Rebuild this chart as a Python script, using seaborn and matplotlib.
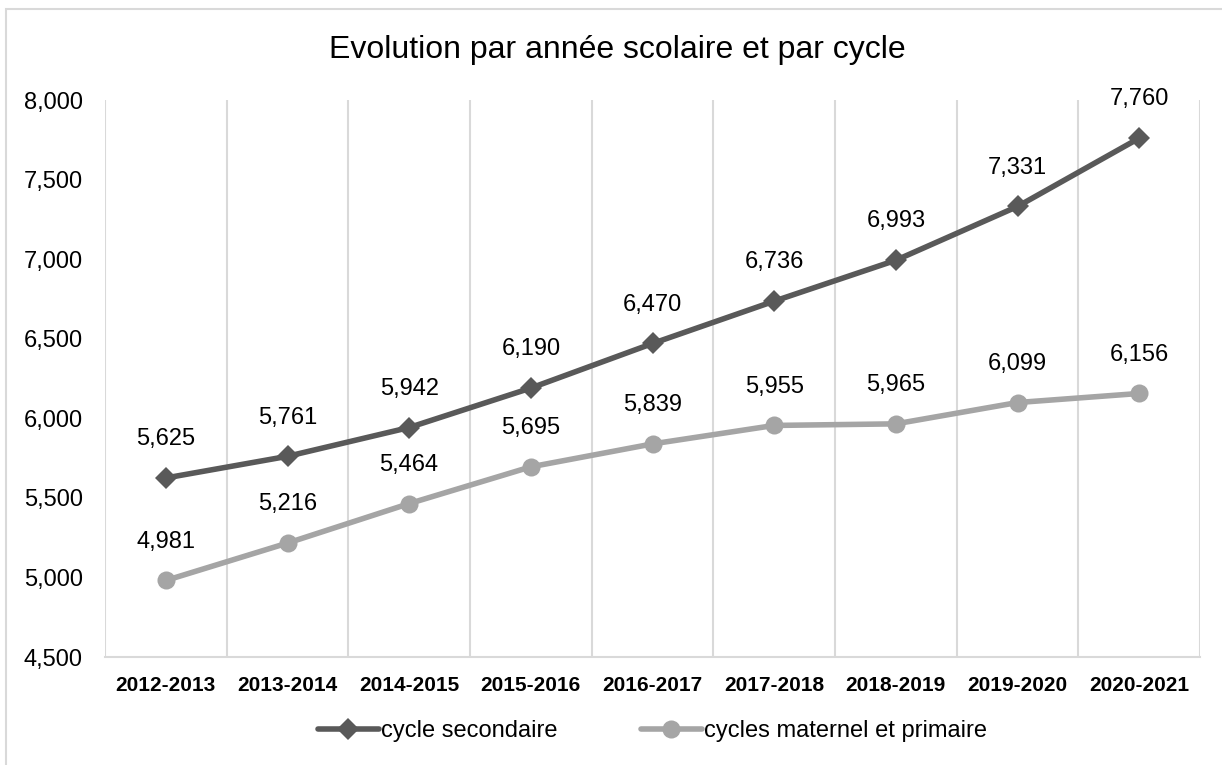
import numpy as np
import pandas as pd
import seaborn as sns
import matplotlib.pyplot as plt
from matplotlib.patches import Rectangle

annees = ['2012-2013', '2013-2014', '2014-2015', '2015-2016', '2016-2017',
          '2017-2018', '2018-2019', '2019-2020', '2020-2021']
secondaire = [5625, 5761, 5942, 6190, 6470, 6736, 6993, 7331, 7760]
maternel_primaire = [4981, 5216, 5464, 5695, 5839, 5955, 5965, 6099, 6156]
y_ticks = [4500, 5000, 5500, 6000, 6500, 7000, 7500, 8000]

sns.set_style("white")
plt.rcParams['font.family'] = ['Liberation Sans', 'DejaVu Sans']
plt.rcParams['text.color'] = 'black'
plt.rcParams['xtick.color'] = 'black'
plt.rcParams['ytick.color'] = 'black'

fig = plt.figure(figsize=(12.22, 7.65), dpi=100)
ax = fig.add_axes([105/1222, 1 - 657/765, 1095/1222, 557/765])

# cadre du graphique (style Excel)
fig.patches.append(Rectangle((6/1222, -0.5), 1.2, 1.5 - 9/765, transform=fig.transFigure,
                             fill=False, edgecolor='#D9D9D9', linewidth=1.5))

x = np.arange(len(annees))
df = pd.DataFrame({'x': x, 'sec': secondaire, 'mat': maternel_primaire})

sns.lineplot(data=df, x='x', y='sec', ax=ax, color='#595959', linewidth=4,
             marker='D', markersize=11, markeredgewidth=0, label='cycle secondaire')
sns.lineplot(data=df, x='x', y='mat', ax=ax, color='#A5A5A5', linewidth=4,
             marker='o', markersize=13, markeredgewidth=0, label='cycles maternel et primaire')

for serie in (secondaire, maternel_primaire):
    for i, v in enumerate(serie):
        ax.annotate(f'{v:,}', (i, v), xytext=(0, 20), textcoords='offset points',
                    ha='center', va='bottom', fontsize=17, color='black')

ax.set_xlim(-0.5, len(annees) - 0.5)
ax.set_ylim(4500, 8000)
ax.set_yticks(y_ticks)
ax.set_yticklabels([f'{v:,}' for v in y_ticks], fontsize=17)
ax.set_xticks(x)
ax.set_xticklabels(annees, fontsize=15, fontweight='bold')
ax.set_xticks(np.arange(-0.5, len(annees)), minor=True)
ax.tick_params(axis='both', which='both', length=0)
ax.tick_params(axis='x', pad=14)
ax.tick_params(axis='y', pad=16)
ax.grid(False)
ax.grid(True, which='minor', axis='x', color='#D9D9D9', linewidth=1.5)
for s in ['top', 'right', 'left']:
    ax.spines[s].set_visible(False)
ax.spines['bottom'].set_color('#D9D9D9')
ax.spines['bottom'].set_linewidth(1.5)
ax.set_xlabel('')
ax.set_ylabel('')

fig.suptitle('Evolution par année scolaire et par cycle', fontsize=23, color='black',
             x=617/1222, y=1 - 50/765, va='center')

ax.legend(loc='upper center', bbox_to_anchor=(0.5, -0.075), ncol=2, frameon=False,
          fontsize=17, handlelength=2.6, handletextpad=0.1, columnspacing=3.5)

fig.savefig('out.png', dpi=100)
